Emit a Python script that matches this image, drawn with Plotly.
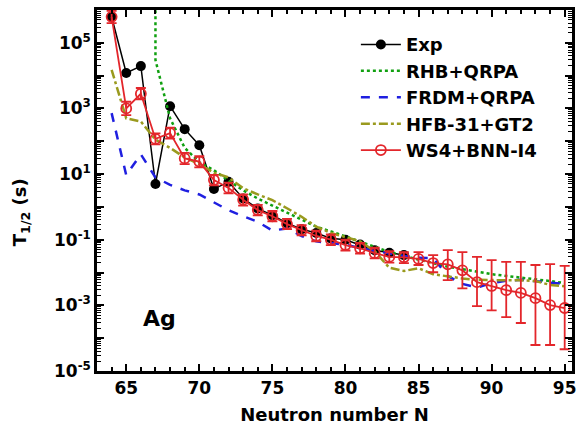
import plotly.graph_objects as go

# ---------------- data (T1/2 in seconds) ----------------
N_exp = [64, 65, 66, 67, 68, 69, 70, 71, 72, 73, 74, 75, 76, 77, 78, 79, 80, 81, 82, 83, 84]
T_exp = [6.2e5, 1.2e4, 1.95e4, 5.0, 1.17e3, 234, 76, 3.5, 5.8, 1.8, 0.89, 0.56, 0.32,
         0.21, 0.16, 0.11, 0.1, 0.071, 0.048, 0.04, 0.034]

N_rhb = [67, 67, 68, 69, 70, 71, 72, 73, 74, 75, 76, 77, 78, 79, 80, 81, 82, 83, 84,
         85, 86, 87, 88, 89, 90, 91, 92, 93, 94, 95]
T_rhb = [1e8, 3.0e4, 500, 63, 23, 13, 6.3, 3.2, 1.8, 1.1, 0.7, 0.42, 0.25, 0.18, 0.126,
         0.089, 0.063, 0.042, 0.032, 0.025, 0.019, 0.015, 0.0126, 0.0105, 0.0089,
         0.0079, 0.0071, 0.0063, 0.0055, 0.0048]

N_frdm = list(range(64, 96))
T_frdm = [720, 9.3, 40, 7.9, 4.7, 3.2, 2.4, 1.4, 0.79, 0.52, 0.35, 0.19, 0.22, 0.13,
          0.089, 0.079, 0.071, 0.056, 0.045, 0.038, 0.032, 0.028, 0.0275, 0.0079,
          0.0045, 0.0035, 0.0048, 0.0056, 0.006, 0.0054, 0.005, 0.0045]

N_hfb = list(range(64, 96))
T_hfb = [1.5e4, 500, 400, 112, 63, 32, 20, 11, 7.9, 3.7, 2.4, 1.6, 0.91, 0.5, 0.25,
         0.16, 0.12, 0.089, 0.045, 0.014, 0.0112, 0.0135, 0.0089, 0.0076, 0.0066,
         0.006, 0.0058, 0.0058, 0.0058, 0.0055, 0.0042, 0.0038]

N_ws4 = list(range(64, 96))
T_ws4 = [6.2e5, 1.0e3, 2.8e3, 118, 178, 30, 24, 6.6, 3.8, 1.65, 0.8, 0.52, 0.3, 0.195,
         0.13, 0.1, 0.069, 0.055, 0.039, 0.03, 0.029, 0.026, 0.0195, 0.0178, 0.0117,
         0.0051, 0.0039, 0.0029, 0.0024, 0.00166, 0.00102, 0.00083]
T_ws4_hi = [9.5e5, 1.6e3, 4.2e3, 175, 260, 44, 35, 9.5, 5.5, 2.4, 1.15, 0.75, 0.43, 0.28,
            0.19, 0.145, 0.1, 0.08, 0.057, 0.045, 0.042, 0.042, 0.034, 0.048, 0.042,
            0.030, 0.024, 0.021, 0.021, 0.017, 0.018, 0.016]
T_ws4_lo = [4.0e5, 630, 1.9e3, 80, 120, 20, 16, 4.5, 2.6, 1.1, 0.55, 0.36, 0.21, 0.135,
            0.09, 0.068, 0.047, 0.038, 0.027, 0.02, 0.0195, 0.017, 0.0102, 0.0059,
            0.0033, 0.00095, 0.0007, 0.00044, 0.00029, 6.2e-5, 6.2e-5, 4.6e-5]

y_tickvals = [1e-5, 1e-4, 1e-3, 1e-2, 1e-1, 1, 10, 100, 1e3, 1e4, 1e5, 1e6]
y_ticktext = ["<b>10<sup>-5</sup></b>", "", "<b>10<sup>-3</sup></b>", "",
              "<b>10<sup>-1</sup></b>", "", "<b>10<sup>1</sup></b>", "",
              "<b>10<sup>3</sup></b>", "", "<b>10<sup>5</sup></b>", ""]

FONT = "DejaVu Sans"
RED = "#e3262b"

fig = go.Figure()

fig.add_trace(go.Scatter(
    x=N_exp, y=T_exp, name="<b>Exp</b>", mode="lines+markers",
    line=dict(color="black", width=1.5),
    marker=dict(symbol="circle", size=10, color="black")))

fig.add_trace(go.Scatter(
    x=N_rhb, y=T_rhb, name="<b>RHB+QRPA</b>", mode="lines",
    line=dict(color="#10a010", width=2.5, dash="dot")))

fig.add_trace(go.Scatter(
    x=N_frdm, y=T_frdm, name="<b>FRDM+QRPA</b>", mode="lines",
    line=dict(color="#1f1fe0", width=2.5, dash="dash")))

fig.add_trace(go.Scatter(
    x=N_hfb, y=T_hfb, name="<b>HFB-31+GT2</b>", mode="lines",
    line=dict(color="#9a9a1e", width=2.5, dash="dashdot")))

err_plus = [h - v for h, v in zip(T_ws4_hi, T_ws4)]
err_minus = [v - l for v, l in zip(T_ws4, T_ws4_lo)]
fig.add_trace(go.Scatter(
    x=N_ws4, y=T_ws4, name="<b>WS4+BNN-I4</b>", mode="lines+markers",
    line=dict(color=RED, width=1.8),
    marker=dict(symbol="circle-open", size=10, color=RED, line=dict(width=1.8, color=RED)),
    error_y=dict(type="data", symmetric=False, array=err_plus, arrayminus=err_minus,
                 color=RED, thickness=1.8, width=5)))

fig.add_annotation(x=67.3, y=-3.4, xref="x", yref="y", text="<b>Ag</b>",
                   showarrow=False, font=dict(family=FONT, size=22, color="black"))

# y-axis title (placed slightly below the plot centre, as in the reference)
fig.add_annotation(x=-0.16, y=0.44, xref="paper", yref="paper", textangle=-90,
                   text="<b>T<sub>1/2</sub> (s)</b>", showarrow=False,
                   xanchor="center", yanchor="middle",
                   font=dict(family=FONT, size=18, color="black"))

fig.update_layout(
    width=582, height=439,
    margin=dict(l=97, r=6, t=10, b=68),
    paper_bgcolor="white", plot_bgcolor="white",
    font=dict(family=FONT, color="black"),
    showlegend=True,
    legend=dict(x=0.545, y=0.955, xanchor="left", yanchor="top",
                bgcolor="rgba(0,0,0,0)", borderwidth=0,
                font=dict(family=FONT, size=18, color="black"),
                tracegroupgap=0, itemwidth=40),
)

fig.update_xaxes(
    range=[63, 95.5], tick0=65, dtick=5,
    showline=True, linecolor="black", linewidth=2.5, mirror="allticks",
    ticks="inside", ticklen=7, tickwidth=1.5, tickcolor="black",
    minor=dict(dtick=1, ticks="inside", ticklen=4, tickwidth=1.5, tickcolor="black"),
    showgrid=False, zeroline=False,
    tickfont=dict(family=FONT, size=17, weight="bold"),
    title=dict(text="<b>Neutron number N</b>", font=dict(family=FONT, size=18), standoff=12),
)
fig.update_yaxes(
    type="log", range=[-5, 6],
    tickmode="array", tickvals=y_tickvals, ticktext=y_ticktext,
    showline=True, linecolor="black", linewidth=2.5, mirror="allticks",
    ticks="inside", ticklen=7, tickwidth=1.5, tickcolor="black",
    minor=dict(dtick="D1", ticks="inside", ticklen=4, tickwidth=1, tickcolor="black"),
    showgrid=False, zeroline=False,
    tickfont=dict(family=FONT, size=17),
)

fig.write_html("out.html")
